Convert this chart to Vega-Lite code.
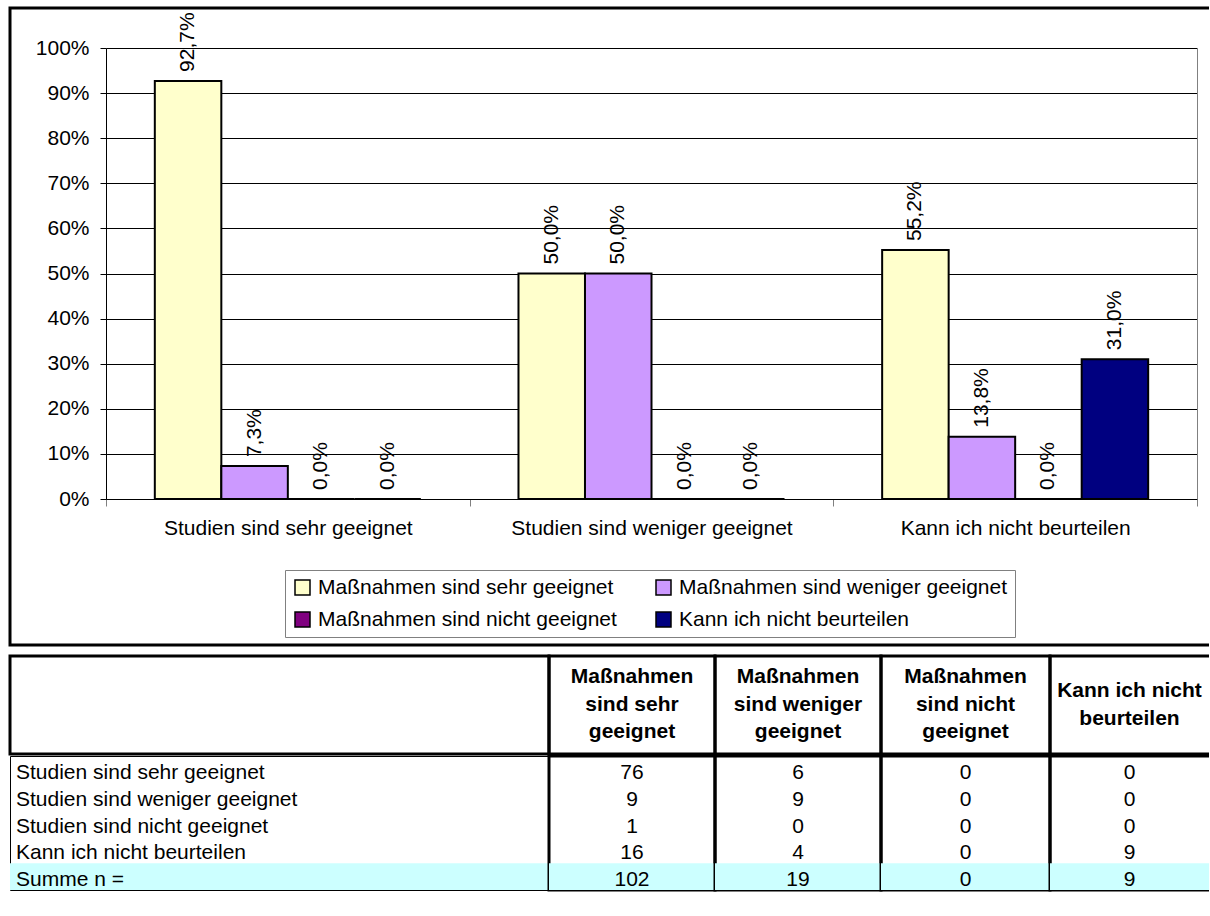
{
  "$schema": "https://vega.github.io/schema/vega-lite/v6.json",
  "padding": {"left": 8, "top": 6, "right": 0, "bottom": 0},
  "background": "white",
  "datasets": {
    "bars": [
      {"grp": "Studien sind sehr geeignet", "series": "Maßnahmen sind sehr geeignet", "pct": 0.927},
      {"grp": "Studien sind sehr geeignet", "series": "Maßnahmen sind weniger geeignet", "pct": 0.073},
      {"grp": "Studien sind sehr geeignet", "series": "Maßnahmen sind nicht geeignet", "pct": 0},
      {"grp": "Studien sind sehr geeignet", "series": "Kann ich nicht beurteilen", "pct": 0},
      {"grp": "Studien sind weniger geeignet", "series": "Maßnahmen sind sehr geeignet", "pct": 0.5},
      {"grp": "Studien sind weniger geeignet", "series": "Maßnahmen sind weniger geeignet", "pct": 0.5},
      {"grp": "Studien sind weniger geeignet", "series": "Maßnahmen sind nicht geeignet", "pct": 0},
      {"grp": "Studien sind weniger geeignet", "series": "Kann ich nicht beurteilen", "pct": 0},
      {"grp": "Kann ich nicht beurteilen", "series": "Maßnahmen sind sehr geeignet", "pct": 0.552},
      {"grp": "Kann ich nicht beurteilen", "series": "Maßnahmen sind weniger geeignet", "pct": 0.138},
      {"grp": "Kann ich nicht beurteilen", "series": "Maßnahmen sind nicht geeignet", "pct": 0},
      {"grp": "Kann ich nicht beurteilen", "series": "Kann ich nicht beurteilen", "pct": 0.31}
    ],
    "tbl": [
      {"r": "Studien sind sehr geeignet", "c": "Maßnahmen sind sehr geeignet", "n": 76},
      {"r": "Studien sind sehr geeignet", "c": "Maßnahmen sind weniger geeignet", "n": 6},
      {"r": "Studien sind sehr geeignet", "c": "Maßnahmen sind nicht geeignet", "n": 0},
      {"r": "Studien sind sehr geeignet", "c": "Kann ich nicht beurteilen", "n": 0},
      {"r": "Studien sind weniger geeignet", "c": "Maßnahmen sind sehr geeignet", "n": 9},
      {"r": "Studien sind weniger geeignet", "c": "Maßnahmen sind weniger geeignet", "n": 9},
      {"r": "Studien sind weniger geeignet", "c": "Maßnahmen sind nicht geeignet", "n": 0},
      {"r": "Studien sind weniger geeignet", "c": "Kann ich nicht beurteilen", "n": 0},
      {"r": "Studien sind nicht geeignet", "c": "Maßnahmen sind sehr geeignet", "n": 1},
      {"r": "Studien sind nicht geeignet", "c": "Maßnahmen sind weniger geeignet", "n": 0},
      {"r": "Studien sind nicht geeignet", "c": "Maßnahmen sind nicht geeignet", "n": 0},
      {"r": "Studien sind nicht geeignet", "c": "Kann ich nicht beurteilen", "n": 0},
      {"r": "Kann ich nicht beurteilen", "c": "Maßnahmen sind sehr geeignet", "n": 16},
      {"r": "Kann ich nicht beurteilen", "c": "Maßnahmen sind weniger geeignet", "n": 4},
      {"r": "Kann ich nicht beurteilen", "c": "Maßnahmen sind nicht geeignet", "n": 0},
      {"r": "Kann ich nicht beurteilen", "c": "Kann ich nicht beurteilen", "n": 9},
      {"r": "Summe n =", "c": "Maßnahmen sind sehr geeignet", "n": 102},
      {"r": "Summe n =", "c": "Maßnahmen sind weniger geeignet", "n": 19},
      {"r": "Summe n =", "c": "Maßnahmen sind nicht geeignet", "n": 0},
      {"r": "Summe n =", "c": "Kann ich nicht beurteilen", "n": 9}
    ],
    "heads": [
      {"c": "", "h": ""},
      {"c": "Maßnahmen sind sehr geeignet", "h": "Maßnahmen\nsind sehr\ngeeignet"},
      {"c": "Maßnahmen sind weniger geeignet", "h": "Maßnahmen\nsind weniger\ngeeignet"},
      {"c": "Maßnahmen sind nicht geeignet", "h": "Maßnahmen\nsind nicht\ngeeignet"},
      {"c": "Kann ich nicht beurteilen", "h": "Kann ich nicht\nbeurteilen"}
    ]
  },
  "spacing": 11,
  "bounds": "flush",
  "vconcat": [
    {
      "width": 1199,
      "height": 637,
      "data": {"name": "bars"},
      "view": {"stroke": "black", "strokeWidth": 3, "strokeDash": [1199, 637, 1836], "fill": "white"},
      "encoding": {
        "x": {
          "field": "grp", "type": "nominal",
          "sort": ["Studien sind sehr geeignet", "Studien sind weniger geeignet", "Kann ich nicht beurteilen"],
          "title": null,
          "scale": {"range": [96, 1187], "paddingInner": 0, "paddingOuter": 0},
          "axis": {"orient": "bottom", "offset": -146, "labelAngle": 0, "labelFontSize": 21, "labelPadding": 11, "tickBand": "extent", "tickColor": "#808080", "tickSize": 7, "domainColor": "black", "labelLimit": 500, "labelColor": "black"}
        },
        "xOffset": {
          "field": "series", "type": "nominal",
          "sort": ["Maßnahmen sind sehr geeignet", "Maßnahmen sind weniger geeignet", "Maßnahmen sind nicht geeignet", "Kann ich nicht beurteilen"],
          "scale": {"paddingInner": 0, "paddingOuter": 0.734}
        }
      },
      "layer": [
        {
          "mark": {"type": "bar", "stroke": "black", "strokeWidth": 2},
          "encoding": {
            "y": {
              "field": "pct", "type": "quantitative", "title": null,
              "scale": {"domain": [0, 1], "range": [491, 40], "nice": false},
              "axis": {"orient": "left", "offset": -96, "values": [0, 0.1, 0.2, 0.3, 0.4, 0.5, 0.6, 0.7, 0.8, 0.9, 1], "format": ".0%", "grid": true, "gridColor": "black", "gridOpacity": 1, "domainColor": "black", "tickColor": "black", "labelFontSize": 21, "labelColor": "black", "labelPadding": 11, "tickSize": 6}
            },
            "color": {
              "field": "series", "type": "nominal",
              "scale": {
                "domain": ["Maßnahmen sind sehr geeignet", "Maßnahmen sind weniger geeignet", "Maßnahmen sind nicht geeignet", "Kann ich nicht beurteilen"],
                "range": ["#FFFFCC", "#CC99FF", "#800080", "#000080"]
              },
              "legend": {
                "orient": "none", "legendX": 275, "legendY": 562, "direction": "horizontal", "columns": 2,
                "title": null, "strokeColor": "#808080", "fillColor": "white", "padding": 7,
                "rowPadding": 10, "columnPadding": 36, "symbolType": "square", "symbolSize": 225,
                "symbolStrokeColor": "black", "symbolStrokeWidth": 1.5, "labelOffset": 5,
                "labelFontSize": 21, "labelColor": "black", "labelLimit": 500
              }
            }
          }
        },
        {
          "mark": {"type": "text", "angle": 270, "align": "left", "baseline": "middle", "dx": 9, "fontSize": 21, "color": "black"},
          "encoding": {
            "text": {"field": "pct", "type": "quantitative", "format": ".1%"},
            "y": {
              "field": "pct", "type": "quantitative", "title": null,
              "scale": {"domain": [0, 1], "range": [491, 40], "nice": false},
              "axis": {"orient": "right", "offset": -12, "labels": false, "ticks": false, "grid": false, "domainColor": "#808080"}
            }
          }
        }
      ],
      "resolve": {"axis": {"y": "independent"}}
    },
    {
      "spacing": -3,
      "vconcat": [
        {
          "spacing": 0,
          "bounds": "flush",
          "hconcat": [
            {
              "width": 539, "height": 98,
              "data": {"name": "heads"},
              "transform": [{"filter": "datum.c === ''"}],
              "view": {"stroke": "black", "strokeWidth": 3},
              "mark": {"type": "text"},
              "encoding": {"text": {"field": "h"}}
            },
            {
              "width": 166, "height": 98,
              "data": {"name": "heads"},
              "transform": [{"filter": "datum.c === 'Maßnahmen sind sehr geeignet'"}],
              "view": {"stroke": "black", "strokeWidth": 3},
              "mark": {"type": "text", "fontWeight": "bold", "fontSize": 21, "lineBreak": "\n", "lineHeight": 27.5, "baseline": "middle", "dy": -28},
              "encoding": {"text": {"field": "h"}}
            },
            {
              "width": 166, "height": 98,
              "data": {"name": "heads"},
              "transform": [{"filter": "datum.c === 'Maßnahmen sind weniger geeignet'"}],
              "view": {"stroke": "black", "strokeWidth": 3},
              "mark": {"type": "text", "fontWeight": "bold", "fontSize": 21, "lineBreak": "\n", "lineHeight": 27.5, "baseline": "middle", "dy": -28},
              "encoding": {"text": {"field": "h"}}
            },
            {
              "width": 169, "height": 98,
              "data": {"name": "heads"},
              "transform": [{"filter": "datum.c === 'Maßnahmen sind nicht geeignet'"}],
              "view": {"stroke": "black", "strokeWidth": 3},
              "mark": {"type": "text", "fontWeight": "bold", "fontSize": 21, "lineBreak": "\n", "lineHeight": 27.5, "baseline": "middle", "dy": -28},
              "encoding": {"text": {"field": "h"}}
            },
            {
              "width": 159, "height": 98,
              "data": {"name": "heads"},
              "transform": [{"filter": "datum.c === 'Kann ich nicht beurteilen'"}],
              "view": {"stroke": "black", "strokeWidth": 3, "strokeDash": [159, 98, 257]},
              "mark": {"type": "text", "fontWeight": "bold", "fontSize": 21, "lineBreak": "\n", "lineHeight": 27.5, "baseline": "middle", "dy": -14},
              "encoding": {"text": {"field": "h"}}
            }
          ]
        },
        {
          "spacing": 0,
          "bounds": "flush",
          "hconcat": [
            {
              "width": 539, "height": 134,
              "data": {"name": "tbl"},
              "transform": [{"filter": "datum.c === 'Maßnahmen sind sehr geeignet'"}],
              "view": {"stroke": "black", "strokeWidth": 1},
              "encoding": {
                "y": {"field": "r", "type": "nominal", "axis": null,
                  "sort": ["Studien sind sehr geeignet", "Studien sind weniger geeignet", "Studien sind nicht geeignet", "Kann ich nicht beurteilen", "Summe n ="],
                  "scale": {"domain": ["Studien sind sehr geeignet", "Studien sind weniger geeignet", "Studien sind nicht geeignet", "Kann ich nicht beurteilen", "Summe n ="], "paddingInner": 0, "paddingOuter": 0}}
              },
              "layer": [
                {"transform": [{"filter": "datum.r === 'Summe n ='"}], "mark": {"type": "rect", "color": "#CCFFFF"}},
                {"mark": {"type": "text", "align": "left", "dx": 6, "dy": 3.5, "baseline": "middle"},
                 "encoding": {"text": {"field": "r"}, "x": {"datum": 0, "type": "quantitative", "scale": {"domain": [0, 1]}, "axis": null}}}
              ]
            },
            {
              "width": 166, "height": 134,
              "data": {"name": "tbl"},
              "transform": [{"filter": "datum.c === 'Maßnahmen sind sehr geeignet'"}],
              "view": {"stroke": "black", "strokeWidth": 3},
              "encoding": {
                "y": {"field": "r", "type": "nominal", "axis": null,
                  "scale": {"domain": ["Studien sind sehr geeignet", "Studien sind weniger geeignet", "Studien sind nicht geeignet", "Kann ich nicht beurteilen", "Summe n ="], "paddingInner": 0, "paddingOuter": 0}}
              },
              "layer": [
                {"transform": [{"filter": "datum.r === 'Summe n ='"}], "mark": {"type": "rect", "color": "#CCFFFF"}},
                {"mark": {"type": "text", "baseline": "middle", "dy": 3.5}, "encoding": {"text": {"field": "n", "type": "quantitative"}}}
              ]
            },
            {
              "width": 166, "height": 134,
              "data": {"name": "tbl"},
              "transform": [{"filter": "datum.c === 'Maßnahmen sind weniger geeignet'"}],
              "view": {"stroke": "black", "strokeWidth": 3},
              "encoding": {
                "y": {"field": "r", "type": "nominal", "axis": null,
                  "scale": {"domain": ["Studien sind sehr geeignet", "Studien sind weniger geeignet", "Studien sind nicht geeignet", "Kann ich nicht beurteilen", "Summe n ="], "paddingInner": 0, "paddingOuter": 0}}
              },
              "layer": [
                {"transform": [{"filter": "datum.r === 'Summe n ='"}], "mark": {"type": "rect", "color": "#CCFFFF"}},
                {"mark": {"type": "text", "baseline": "middle", "dy": 3.5}, "encoding": {"text": {"field": "n", "type": "quantitative"}}}
              ]
            },
            {
              "width": 169, "height": 134,
              "data": {"name": "tbl"},
              "transform": [{"filter": "datum.c === 'Maßnahmen sind nicht geeignet'"}],
              "view": {"stroke": "black", "strokeWidth": 3},
              "encoding": {
                "y": {"field": "r", "type": "nominal", "axis": null,
                  "scale": {"domain": ["Studien sind sehr geeignet", "Studien sind weniger geeignet", "Studien sind nicht geeignet", "Kann ich nicht beurteilen", "Summe n ="], "paddingInner": 0, "paddingOuter": 0}}
              },
              "layer": [
                {"transform": [{"filter": "datum.r === 'Summe n ='"}], "mark": {"type": "rect", "color": "#CCFFFF"}},
                {"mark": {"type": "text", "baseline": "middle", "dy": 3.5}, "encoding": {"text": {"field": "n", "type": "quantitative"}}}
              ]
            },
            {
              "width": 159, "height": 134,
              "data": {"name": "tbl"},
              "transform": [{"filter": "datum.c === 'Kann ich nicht beurteilen'"}],
              "view": {"stroke": "black", "strokeWidth": 3, "strokeDash": [159, 134, 293]},
              "encoding": {
                "y": {"field": "r", "type": "nominal", "axis": null,
                  "scale": {"domain": ["Studien sind sehr geeignet", "Studien sind weniger geeignet", "Studien sind nicht geeignet", "Kann ich nicht beurteilen", "Summe n ="], "paddingInner": 0, "paddingOuter": 0}}
              },
              "layer": [
                {"transform": [{"filter": "datum.r === 'Summe n ='"}], "mark": {"type": "rect", "color": "#CCFFFF"}},
                {"mark": {"type": "text", "baseline": "middle", "dy": 3.5}, "encoding": {"text": {"field": "n", "type": "quantitative"}}}
              ]
            }
          ]
        }
      ]
    }
  ],
  "config": {
    "font": "Liberation Sans",
    "text": {"font": "Liberation Sans", "fontSize": 21, "color": "black"},
    "axis": {"labelFont": "Liberation Sans", "labelColor": "black"},
    "legend": {"labelFont": "Liberation Sans"},
    "locale": {"number": {"decimal": ",", "thousands": ".", "grouping": [3], "currency": ["", " €"]}}
  }
}
